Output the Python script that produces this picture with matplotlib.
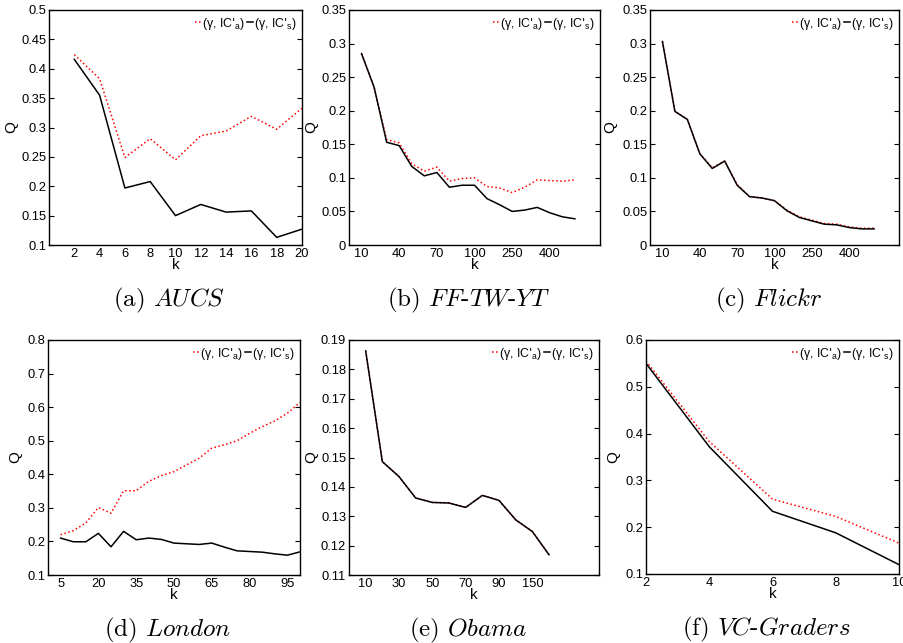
"""Q versus k for six networks, two variants each."""
import matplotlib
matplotlib.use("Agg")
import matplotlib.pyplot as plt
from matplotlib.font_manager import FontProperties
from matplotlib.ticker import FuncFormatter

plt.rcParams["font.family"] = ["Liberation Sans", "DejaVu Sans"]
plt.rcParams["mathtext.fontset"] = "cm"

# (a) AUCS
aucs_k = [2, 4, 6, 8, 10, 12, 14, 16, 18, 20]
aucs_a = [0.424, 0.383, 0.249, 0.281, 0.245, 0.286, 0.294, 0.319, 0.297, 0.333]
aucs_s = [0.416, 0.355, 0.197, 0.208, 0.150, 0.169, 0.156, 0.158, 0.113, 0.127]

# (b) FF-TW-YT and (c) Flickr share the same k grid (index positions)
big_idx = list(range(1, 19))
big_ticks = [1, 4, 7, 10, 13, 16]
big_labels = ["10", "40", "70", "100", "250", "400"]
fftwyt_a = [0.285, 0.235, 0.157, 0.152, 0.121, 0.110, 0.116, 0.095, 0.099,
            0.100, 0.087, 0.085, 0.078, 0.086, 0.097, 0.096, 0.095, 0.097]
fftwyt_s = [0.285, 0.235, 0.153, 0.148, 0.117, 0.103, 0.108, 0.086, 0.089,
            0.089, 0.069, 0.060, 0.050, 0.052, 0.056, 0.048, 0.042, 0.039]
flickr_a = [0.303, 0.199, 0.187, 0.136, 0.115, 0.125, 0.090, 0.072, 0.070,
            0.066, 0.052, 0.042, 0.037, 0.032, 0.031, 0.027, 0.025, 0.025]
flickr_s = [0.303, 0.199, 0.187, 0.136, 0.114, 0.125, 0.089, 0.072, 0.070,
            0.066, 0.051, 0.041, 0.036, 0.031, 0.030, 0.026, 0.024, 0.024]

# (d) London
london_k = list(range(5, 101, 5))
london_a = [0.220, 0.232, 0.255, 0.301, 0.284, 0.351, 0.351, 0.379, 0.396, 0.408,
            0.428, 0.448, 0.478, 0.488, 0.500, 0.522, 0.542, 0.559, 0.582, 0.614]
london_s = [0.210, 0.199, 0.199, 0.224, 0.184, 0.230, 0.205, 0.210, 0.206, 0.195,
            0.193, 0.191, 0.195, 0.183, 0.172, 0.170, 0.168, 0.163, 0.159, 0.169]

# (e) Obama (index positions)
obama_idx = list(range(1, 13))
obama_ticks = [1, 3, 5, 7, 9, 11]
obama_labels = ["10", "30", "50", "70", "90", "150"]
obama_a = [0.1863, 0.1486, 0.1435, 0.1362, 0.1347, 0.1346,
           0.1330, 0.1371, 0.1354, 0.1288, 0.1248, 0.1169]
obama_s = [0.1863, 0.1486, 0.1435, 0.1362, 0.1347, 0.1345,
           0.1330, 0.1371, 0.1354, 0.1288, 0.1248, 0.1169]

# (f) VC-Graders
vc_k = [2, 4, 6, 8, 10]
vc_a = [0.555, 0.383, 0.260, 0.223, 0.166]
vc_s = [0.550, 0.372, 0.234, 0.188, 0.120]

legend_labels = [r"(γ, IC$'_\mathregular{a}$)", r"(γ, IC$'_\mathregular{s}$)"]
legend_font = FontProperties(family=["Liberation Sans", "DejaVu Sans"], size=8.8,
                             math_fontfamily="dejavusans")

W, H = 904, 643
fig = plt.figure(figsize=(W / 100, H / 100), dpi=100)


def make_axes(left, right, top, bottom):
    return fig.add_axes([left / W, 1 - bottom / H, (right - left) / W, (bottom - top) / H])


panels = [
    # box px, x, ya, ys, xlim, xticks, xlabels, ylim, ystep, qx, caption
    ((49, 302, 10, 245), aucs_k, aucs_a, aucs_s, (0, 20), aucs_k, None,
     (0.1, 0.5), 0.05, -0.12, r"(a) $\mathit{AUCS}$"),
    ((349, 600, 10, 245), big_idx, fftwyt_a, fftwyt_s, (0, 20), big_ticks, big_labels,
     (0, 0.35), 0.05, -0.124, r"(b) $\mathit{FF}$-$\mathit{TW}$-$\mathit{YT}$"),
    ((650, 899, 10, 245), big_idx, flickr_a, flickr_s, (0, 20), big_ticks, big_labels,
     (0, 0.35), 0.05, -0.133, r"(c) $\mathit{Flickr}$"),
    ((48, 300, 340, 575), london_k, london_a, london_s, (0, 100), list(range(5, 100, 15)), None,
     (0.1, 0.8), 0.1, -0.103, r"(d) $\mathit{London}$"),
    ((349, 599, 340, 575), obama_idx, obama_a, obama_s, (0, 15), obama_ticks, obama_labels,
     (0.11, 0.19), 0.01, -0.124, r"(e) $\mathit{Obama}$"),
    ((646, 899, 340, 574), vc_k, vc_a, vc_s, (2, 10), vc_k, None,
     (0.1, 0.6), 0.1, -0.103, r"(f) $\mathit{VC}$-$\mathit{Graders}$"),
]

for box, x, ya, ys, xlim, xt, xl, ylim, ystep, qx, caption in panels:
    left, right, top, bottom = box
    ax = make_axes(left, right, top, bottom)
    ax.plot(x, ya, color="red", linestyle=":", linewidth=1.1, label=legend_labels[0])
    ax.plot(x, ys, color="black", linestyle="-", linewidth=1.1, label=legend_labels[1])
    ax.set_xlim(*xlim)
    ax.set_ylim(*ylim)
    ax.set_xticks(xt)
    if xl is not None:
        ax.set_xticklabels(xl)
    n = int(round((ylim[1] - ylim[0]) / ystep))
    ax.set_yticks([round(ylim[0] + i * ystep, 3) for i in range(n + 1)])
    ax.yaxis.set_major_formatter(FuncFormatter(lambda v, p: f"{v:g}"))
    ax.tick_params(direction="in", length=3.5, width=0.8, labelsize=9.3, pad=2,
                   left=True, right=True, bottom=False, top=False)
    for sp in ax.spines.values():
        sp.set_linewidth(1.0)
    ax.set_ylabel("Q", fontsize=11)
    ax.set_xlabel("k", fontsize=11)
    ax.yaxis.set_label_coords(qx, 0.5)
    ax.xaxis.set_label_coords(0.5, -0.056)
    ax.legend(loc="upper right", ncol=2, frameon=False, prop=legend_font,
              handlelength=0.45, handletextpad=0.1, columnspacing=0.15,
              borderaxespad=0.35, borderpad=0.1)
    cx = (left + right) / 2 - 6
    cy = bottom + 61
    fig.text(cx / W, 1 - cy / H, caption, fontsize=18, family="cmr10",
             ha="center", va="baseline")

fig.savefig("out.png", dpi=100)
